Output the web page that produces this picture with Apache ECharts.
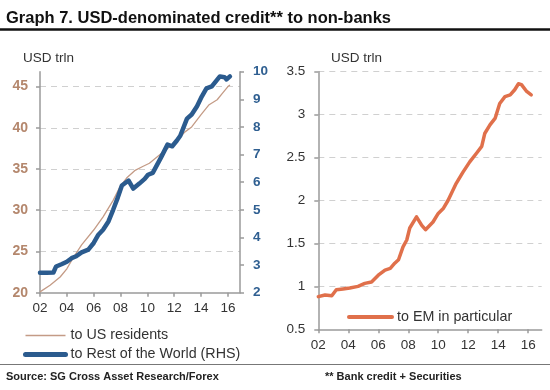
<!DOCTYPE html>
<html>
<head>
<meta charset="utf-8">
<script src="https://cdn.jsdelivr.net/npm/echarts@6/dist/echarts.min.js"></script>
<style>
html,body{margin:0;padding:0;background:#fff;}
#chart{width:550px;height:390px;}
</style>
</head>
<body>
<div id="chart"></div>
<script>
// ---- Data ----
const titleText = 'Graph 7. USD-denominated credit** to non-banks';
const unitText = 'USD trln';
const sourceText = 'Source: SG Cross Asset Research/Forex';
const noteText = '** Bank credit + Securities';

const usName = 'to US residents';
const rowName = 'to Rest of the World (RHS)';
const emName = 'to EM in particular';

const usYears = [2002.0, 2002.75, 2003.5, 2004.0, 2004.5, 2005.1, 2006.0, 2006.7, 2007.45, 2007.95, 2008.45, 2009.05, 2009.65, 2010.15, 2010.9, 2011.5, 2012.25, 2012.8, 2013.3, 2014.0, 2014.6, 2015.2, 2015.6, 2016.0, 2016.15];
const usValues = [20.1, 20.9, 21.9, 22.9, 24.3, 25.8, 27.6, 29.2, 31.2, 32.8, 33.9, 34.8, 35.3, 35.7, 36.7, 37.5, 38.5, 39.5, 40.1, 41.6, 42.8, 43.4, 44.2, 45.0, 45.2];

const rowYears = [2002.0, 2002.5, 2003.0, 2003.2, 2003.6, 2004.0, 2004.35, 2004.7, 2005.1, 2005.6, 2006.0, 2006.35, 2006.7, 2007.1, 2007.45, 2007.8, 2008.1, 2008.6, 2008.95, 2009.4, 2009.8, 2010.05, 2010.4, 2011.0, 2011.5, 2011.85, 2012.2, 2012.45, 2012.95, 2013.3, 2013.7, 2014.05, 2014.4, 2014.8, 2015.4, 2015.75, 2015.9, 2016.15];
const rowValues = [2.72, 2.72, 2.73, 2.95, 3.03, 3.12, 3.25, 3.32, 3.46, 3.56, 3.8, 4.1, 4.28, 4.58, 5.0, 5.45, 5.88, 6.06, 5.77, 5.95, 6.12, 6.27, 6.34, 6.88, 7.36, 7.3, 7.51, 7.68, 8.3, 8.45, 8.75, 9.1, 9.4, 9.47, 9.83, 9.8, 9.72, 9.83];

const emYears = [2002.0, 2002.45, 2002.9, 2003.2, 2003.65, 2004.1, 2004.65, 2005.1, 2005.55, 2006.0, 2006.45, 2006.8, 2007.1, 2007.35, 2007.65, 2007.9, 2008.1, 2008.55, 2008.9, 2009.15, 2009.65, 2010.0, 2010.35, 2010.65, 2011.2, 2011.65, 2012.1, 2012.55, 2012.9, 2013.1, 2013.45, 2013.8, 2014.1, 2014.45, 2014.8, 2015.1, 2015.35, 2015.55, 2015.9, 2016.2];
const emValues = [0.88, 0.9, 0.89, 0.96, 0.97, 0.98, 1.0, 1.035, 1.05, 1.13, 1.19, 1.21, 1.27, 1.31, 1.46, 1.54, 1.68, 1.81, 1.71, 1.66, 1.75, 1.85, 1.91, 2.0, 2.2, 2.33, 2.45, 2.55, 2.63, 2.78, 2.88, 2.96, 3.13, 3.21, 3.23, 3.29, 3.36, 3.35, 3.27, 3.23];

const xMin = 2002, xMax = 2016.9, xStep = 2;
const leftMin = 20, leftMax = 46.8, leftStep = 5;
const rhsMin = 2, rhsMax = 10, rhsStep = 1;
const emMin = 0.5, emMax = 3.5, emStep = 0.5;

// ---- Build ----
const zip = (a, b) => a.map((v, i) => [v, b[i]]);
const FONT = "'Liberation Sans', Arial, sans-serif";
const AXIS_GRAY = '#9a9a9a';
const GRID_DASH = { color: '#d0d0d0', type: [6, 5], width: 1 };
const yearFmt = v => String(Math.round(v) % 100).padStart(2, '0');
const US_COLOR = '#c49b86', ROW_COLOR = '#2b5b8e', EM_COLOR = '#e0704b';

const xAxisBase = {
  type: 'value', min: xMin, max: xMax, interval: xStep,
  axisLine: { show: true, lineStyle: { color: AXIS_GRAY, width: 1.5 } },
  axisTick: { show: true, length: 4, lineStyle: { color: AXIS_GRAY, width: 1.5 } },
  axisLabel: { formatter: yearFmt, showMaxLabel: false, color: '#333', fontSize: 13.5, fontFamily: FONT, margin: 9 },
  splitLine: { show: false }
};

const chart = echarts.init(document.getElementById('chart'), null, { renderer: 'canvas' });
chart.setOption({
  backgroundColor: '#fff',
  animation: false,
  textStyle: { fontFamily: FONT },
  title: [
    { text: titleText, left: 6, top: 10, padding: 0, textStyle: { fontSize: 16.5, fontWeight: 'bold', color: '#111', fontFamily: FONT } },
    { text: unitText, left: 23, top: 51, padding: 0, textStyle: { fontSize: 13.5, fontWeight: 'normal', color: '#333', fontFamily: FONT } },
    { text: unitText, left: 331, top: 51, padding: 0, textStyle: { fontSize: 13.5, fontWeight: 'normal', color: '#333', fontFamily: FONT } },
    { text: sourceText, left: 6, top: 371, padding: 0, textStyle: { fontSize: 11, fontWeight: 'bold', color: '#222', fontFamily: FONT } },
    { text: noteText, left: 325, top: 371, padding: 0, textStyle: { fontSize: 11, fontWeight: 'bold', color: '#222', fontFamily: FONT } }
  ],
  graphic: [
    { type: 'line', shape: { x1: 0, y1: 29.5, x2: 550, y2: 29.5 }, style: { stroke: '#111', lineWidth: 2.5 } },
    { type: 'line', shape: { x1: 0, y1: 364.5, x2: 550, y2: 364.5 }, style: { stroke: '#777', lineWidth: 1 } }
  ],
  legend: [
    {
      orient: 'vertical', left: 23, top: 328.5, padding: 0, itemWidth: 40, itemHeight: 10, itemGap: 5,
      data: [
        { name: usName, lineStyle: { width: 1.3, color: US_COLOR } },
        { name: rowName, lineStyle: { width: 5, color: ROW_COLOR } }
      ],
      itemStyle: { opacity: 0 },
      textStyle: { fontSize: 14.3, color: '#333', fontFamily: FONT }
    },
    {
      left: 347, top: 310, padding: 0, itemWidth: 43, itemHeight: 10,
      data: [{ name: emName, lineStyle: { width: 4, color: EM_COLOR } }],
      itemStyle: { opacity: 0 },
      textStyle: { fontSize: 14.3, color: '#333', fontFamily: FONT }
    }
  ],
  grid: [
    { left: 40, top: 71.7, width: 200, height: 221, containLabel: false },
    { left: 318.3, top: 71.7, width: 223.4, height: 257.6, containLabel: false }
  ],
  xAxis: [
    Object.assign({ gridIndex: 0 }, xAxisBase),
    Object.assign({ gridIndex: 1 }, xAxisBase)
  ],
  yAxis: [
    {
      gridIndex: 0, type: 'value', position: 'left', min: leftMin, max: leftMax, interval: leftStep,
      axisLine: { show: true, lineStyle: { color: AXIS_GRAY, width: 1.5 } },
      axisTick: { show: true, length: 4, lineStyle: { color: AXIS_GRAY, width: 1.5 } },
      axisLabel: { showMaxLabel: false, color: '#b4876d', fontSize: 14, fontWeight: 'bold', fontFamily: FONT, margin: 12 },
      splitLine: { show: true, showMinLine: false, showMaxLine: false, lineStyle: GRID_DASH }
    },
    {
      gridIndex: 0, type: 'value', position: 'right', min: rhsMin, max: rhsMax, interval: rhsStep,
      alignTicks: false,
      axisLine: { show: true, lineStyle: { color: AXIS_GRAY, width: 1.5 } },
      axisTick: { show: true, length: 4, lineStyle: { color: AXIS_GRAY, width: 1.5 } },
      axisLabel: { color: '#2f5f91', fontSize: 13.5, fontWeight: 'bold', fontFamily: FONT, margin: 13 },
      splitLine: { show: false }
    },
    {
      gridIndex: 1, type: 'value', position: 'left', min: emMin, max: emMax, interval: emStep,
      axisLine: { show: true, lineStyle: { color: AXIS_GRAY, width: 1.5 } },
      axisTick: { show: true, length: 4, lineStyle: { color: AXIS_GRAY, width: 1.5 } },
      axisLabel: { color: '#333', fontSize: 13.5, fontFamily: FONT, margin: 13 },
      splitLine: { show: true, showMinLine: false, lineStyle: GRID_DASH }
    }
  ],
  series: [
    {
      name: usName, type: 'line', xAxisIndex: 0, yAxisIndex: 0, data: zip(usYears, usValues),
      symbol: 'none', color: US_COLOR, lineStyle: { color: US_COLOR, width: 1.3 }, z: 3
    },
    {
      name: rowName, type: 'line', xAxisIndex: 0, yAxisIndex: 1, data: zip(rowYears, rowValues),
      symbol: 'none', color: ROW_COLOR, lineStyle: { color: ROW_COLOR, width: 4.5, join: 'round', cap: 'round' }, z: 4
    },
    {
      name: emName, type: 'line', xAxisIndex: 1, yAxisIndex: 2, data: zip(emYears, emValues),
      symbol: 'none', color: EM_COLOR, lineStyle: { color: EM_COLOR, width: 3.5, join: 'round', cap: 'round' }, z: 4
    }
  ]
});
</script>
</body>
</html>
